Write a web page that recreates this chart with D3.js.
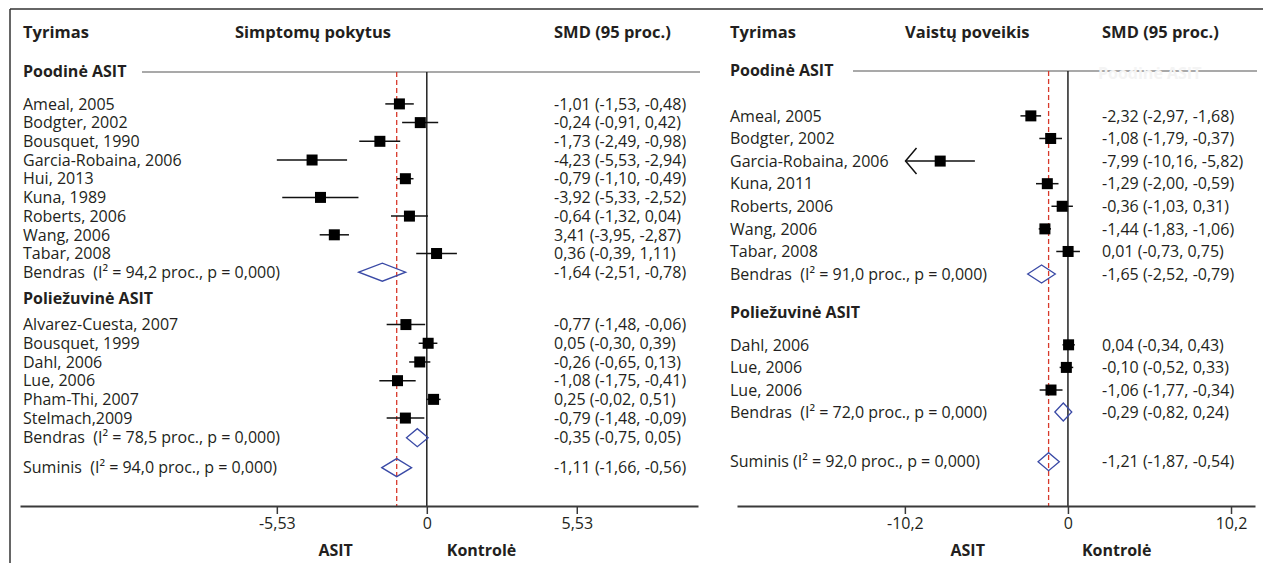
<!DOCTYPE html>
<html>
<head>
  <meta charset="utf-8">
  <title>Forest plot ASIT</title>
  <script src="https://d3js.org/d3.v7.min.js"></script>
  <style>
    html, body { margin: 0; padding: 0; background: #fff; }
    svg { display: block; }
    text { font-family: "Open Sans", "Noto Sans", sans-serif; fill: #231f20; font-size: 16px; white-space: pre; }
    .bold { font-weight: 700; }
    .hdr { font-size: 16.5px; }
    .frame { stroke: #333; stroke-width: 1.5; }
    .groupline { stroke: #8c8c8c; stroke-width: 1.5; }
    .zero { stroke: #222; stroke-width: 1.5; }
    .pooledline { stroke: #d8392b; stroke-width: 1.3; stroke-dasharray: 5,3; }
    .ci { stroke: #111; stroke-width: 1.5; }
    .box { fill: #000; }
    .diamond { fill: none; stroke: #3a4aa6; stroke-width: 1.3; }
    .axis path, .axis line { stroke: #3a3a3a; }
    .axis path { stroke-width: 2; }
    .axis line { stroke-width: 1.5; }
  </style>
</head>
<body>
  <svg width="1263" height="563"></svg>
  <script>
    // ---- left panel: Simptomų pokytus ----
    const sympSubNames = ["Ameal, 2005", "Bodgter, 2002", "Bousquet, 1990", "Garcia-Robaina, 2006", "Hui, 2013",
                          "Kuna, 1989", "Roberts, 2006", "Wang, 2006", "Tabar, 2008"];
    const sympSubEst = [-1.01, -0.24, -1.73, -4.23, -0.79, -3.92, -0.64, -3.41, 0.36];
    const sympSubLo  = [-1.53, -0.91, -2.49, -5.53, -1.10, -5.33, -1.32, -3.95, -0.39];
    const sympSubHi  = [-0.48,  0.42, -0.98, -2.94, -0.49, -2.52,  0.04, -2.87,  1.11];
    const sympSubText = ["-1,01 (-1,53, -0,48)", "-0,24 (-0,91, 0,42)", "-1,73 (-2,49, -0,98)", "-4,23 (-5,53, -2,94)",
                         "-0,79 (-1,10, -0,49)", "-3,92 (-5,33, -2,52)", "-0,64 (-1,32, 0,04)", "3,41 (-3,95, -2,87)",
                         "0,36 (-0,39, 1,11)"];
    const sympSubPooled = [-1.64, -2.51, -0.78];
    const sympSubPooledLabel = "Bendras  (I² = 94,2 proc., p = 0,000)";
    const sympSubPooledText = "-1,64 (-2,51, -0,78)";

    const sympSlNames = ["Alvarez-Cuesta, 2007", "Bousquet, 1999", "Dahl, 2006", "Lue, 2006", "Pham-Thi, 2007", "Stelmach,2009"];
    const sympSlEst = [-0.77,  0.05, -0.26, -1.08,  0.25, -0.79];
    const sympSlLo  = [-1.48, -0.30, -0.65, -1.75, -0.02, -1.48];
    const sympSlHi  = [-0.06,  0.39,  0.13, -0.41,  0.51, -0.09];
    const sympSlText = ["-0,77 (-1,48, -0,06)", "0,05 (-0,30, 0,39)", "-0,26 (-0,65, 0,13)", "-1,08 (-1,75, -0,41)",
                        "0,25 (-0,02, 0,51)", "-0,79 (-1,48, -0,09)"];
    const sympSlPooled = [-0.35, -0.75, 0.05];
    const sympSlPooledLabel = "Bendras  (I² = 78,5 proc., p = 0,000)";
    const sympSlPooledText = "-0,35 (-0,75, 0,05)";

    const sympTotal = [-1.11, -1.66, -0.56];
    const sympTotalLabel = "Suminis  (I² = 94,0 proc., p = 0,000)";
    const sympTotalText = "-1,11 (-1,66, -0,56)";
    const sympTicks = [-5.53, 0, 5.53];
    const sympTickLabels = ["-5,53", "0", "5,53"];

    // ---- right panel: Vaistų poveikis ----
    const medSubNames = ["Ameal, 2005", "Bodgter, 2002", "Garcia-Robaina, 2006", "Kuna, 2011", "Roberts, 2006",
                         "Wang, 2006", "Tabar, 2008"];
    const medSubEst = [-2.32, -1.08,  -7.99, -1.29, -0.36, -1.44,  0.01];
    const medSubLo  = [-2.97, -1.79, -10.16, -2.00, -1.03, -1.83, -0.73];
    const medSubHi  = [-1.68, -0.37,  -5.82, -0.59,  0.31, -1.06,  0.75];
    const medSubText = ["-2,32 (-2,97, -1,68)", "-1,08 (-1,79, -0,37)", "-7,99 (-10,16, -5,82)", "-1,29 (-2,00, -0,59)",
                        "-0,36 (-1,03, 0,31)", "-1,44 (-1,83, -1,06)", "0,01 (-0,73, 0,75)"];
    const medSubPooled = [-1.65, -2.52, -0.79];
    const medSubPooledLabel = "Bendras  (I² = 91,0 proc., p = 0,000)";
    const medSubPooledText = "-1,65 (-2,52, -0,79)";

    const medSlNames = ["Dahl, 2006", "Lue, 2006", "Lue, 2006"];
    const medSlEst = [ 0.04, -0.10, -1.06];
    const medSlLo  = [-0.34, -0.52, -1.77];
    const medSlHi  = [ 0.43,  0.33, -0.34];
    const medSlText = ["0,04 (-0,34, 0,43)", "-0,10 (-0,52, 0,33)", "-1,06 (-1,77, -0,34)"];
    const medSlPooled = [-0.29, -0.82, 0.24];
    const medSlPooledLabel = "Bendras  (I² = 72,0 proc., p = 0,000)";
    const medSlPooledText = "-0,29 (-0,82, 0,24)";

    const medTotal = [-1.21, -1.87, -0.54];
    const medTotalLabel = "Suminis (I² = 92,0 proc., p = 0,000)";
    const medTotalText = "-1,21 (-1,87, -0,54)";
    const medTicks = [-10.2, 0, 10.2];
    const medTickLabels = ["-10,2", "0", "10,2"];

    const svg = d3.select("svg");

    // outer frame (top + left edge only)
    svg.append("line").attr("class", "frame").attr("x1", 10).attr("x2", 1263).attr("y1", 9).attr("y2", 9);
    svg.append("line").attr("class", "frame").attr("x1", 10).attr("x2", 10).attr("y1", 9).attr("y2", 563);

    function studies(names, est, lo, hi, text) {
      return names.map((n, i) => ({ type: "study", label: n, est: est[i], lo: lo[i], hi: hi[i], text: text[i] }));
    }
    function pooled(type, vals, label, text) {
      return { type: type, label: label, est: vals[0], lo: vals[1], hi: vals[2], text: text };
    }

    function drawPanel(p) {
      const g = svg.append("g");
      const x = d3.scaleLinear().domain(p.domain).range(p.range);
      const y = d3.scaleLinear().domain([0, 1]).range([p.top, p.top + p.step]);
      const axisY = 506;

      // headers
      g.append("text").attr("class", "bold hdr").attr("x", p.labelX).attr("y", 38).text("Tyrimas");
      g.append("text").attr("class", "bold hdr").attr("x", p.titleX).attr("y", 38).text(p.title);
      g.append("text").attr("class", "bold hdr").attr("x", p.textX).attr("y", 38).text("SMD (95 proc.)");

      // group line under first heading
      g.append("line").attr("class", "groupline")
        .attr("x1", p.lineX).attr("x2", p.range[1] + 2).attr("y1", y(0) + 1).attr("y2", y(0) + 1);
      if (p.ghost) {
        g.append("text").attr("class", "bold").attr("x", p.ghost).attr("y", y(0) + 9)
          .style("fill", "#f4f4f4").text("Poodinė ASIT");
      }

      // zero line and pooled estimate line
      g.append("line").attr("class", "zero")
        .attr("x1", x(0)).attr("x2", x(0)).attr("y1", y(0) + 1).attr("y2", axisY);
      g.append("line").attr("class", "pooledline")
        .attr("x1", x(p.total.est)).attr("x2", x(p.total.est)).attr("y1", y(0) + 1).attr("y2", axisY);

      // rows
      p.rows.forEach(r => {
        const yy = y(r.slot);
        g.append("text").attr("class", r.type === "head" ? "bold" : null)
          .attr("x", p.labelX).attr("y", yy).attr("dy", "0.36em").text(r.label);
        if (r.type === "head") return;
        g.append("text").attr("x", p.textX).attr("y", yy).attr("dy", "0.36em").text(r.text);
        if (r.type === "study") {
          const clipped = r.lo < p.arrowBelow;
          g.append("line").attr("class", "ci")
            .attr("x1", x(r.lo)).attr("x2", x(r.hi)).attr("y1", yy).attr("y2", yy);
          if (clipped) {
            g.append("path").attr("class", "ci").attr("fill", "none")
              .attr("d", `M${x(r.lo) + 11},${yy - 13}L${x(r.lo)},${yy}L${x(r.lo) + 11},${yy + 13}`);
          }
          g.append("rect").attr("class", "box")
            .attr("x", x(r.est) - 5.5).attr("y", yy - 5.5).attr("width", 11).attr("height", 11);
        } else {
          const h = 9;
          g.append("path").attr("class", "diamond")
            .attr("d", `M${x(r.lo)},${yy}L${x(r.est)},${yy - h}L${x(r.hi)},${yy}L${x(r.est)},${yy + h}Z`);
        }
      });

      // axis
      const axis = d3.axisBottom(x)
        .tickValues(p.ticks)
        .tickFormat((d, i) => p.tickLabels[i])
        .tickSize(8).tickSizeOuter(0).tickPadding(4);
      const ax = g.append("g").attr("class", "axis").attr("transform", `translate(0,${axisY})`).call(axis);
      ax.selectAll("text").style("font-size", "16px").style("font-family", null).attr("fill", "#231f20");

      g.append("text").attr("class", "bold").attr("x", x(0) + p.asitOff).attr("y", 556)
        .attr("text-anchor", "end").text("ASIT");
      g.append("text").attr("class", "bold").attr("x", x(0) + p.kontOff).attr("y", 556).text("Kontrolė");
    }

    // rows with vertical slots
    function buildRows(subStudies, subPooled, slStudies, slPooled, total, gaps) {
      const rows = [];
      let s = 0;
      rows.push({ type: "head", label: "Poodinė ASIT", slot: s });
      s += gaps.afterHead;
      subStudies.forEach(r => { r.slot = s; rows.push(r); s += 1; });
      subPooled.slot = s - 1 + gaps.pooled; rows.push(subPooled); s = subPooled.slot;
      s += gaps.beforeHead;
      rows.push({ type: "head", label: "Poliežuvinė ASIT", slot: s });
      s += gaps.afterHead2;
      slStudies.forEach(r => { r.slot = s; rows.push(r); s += 1; });
      slPooled.slot = s - 1 + gaps.pooled2; rows.push(slPooled); s = slPooled.slot;
      total.slot = s + gaps.total; rows.push(total);
      return rows;
    }

    const leftTotal = pooled("total", sympTotal, sympTotalLabel, sympTotalText);
    drawPanel({
      title: "Simptomų pokytus", labelX: 23, titleX: 235, textX: 554, lineX: 142,
      domain: [-15, 10], range: [20, 698], top: 71, step: 18.7,
      ticks: sympTicks, tickLabels: sympTickLabels, arrowBelow: -100,
      asitOff: -74, kontOff: 20, total: leftTotal,
      rows: buildRows(
        studies(sympSubNames, sympSubEst, sympSubLo, sympSubHi, sympSubText),
        pooled("pooled", sympSubPooled, sympSubPooledLabel, sympSubPooledText),
        studies(sympSlNames, sympSlEst, sympSlLo, sympSlHi, sympSlText),
        pooled("pooled", sympSlPooled, sympSlPooledLabel, sympSlPooledText),
        leftTotal,
        { afterHead: 1.76, pooled: 1, beforeHead: 1.4, afterHead2: 1.4, pooled2: 1.05, total: 1.6 })
    });

    const rightTotal = pooled("total", medTotal, medTotalLabel, medTotalText);
    drawPanel({
      title: "Vaistų poveikis", labelX: 730, titleX: 905, textX: 1102, lineX: 853, ghost: 1098,
      domain: [-20.7, 11.7], range: [737, 1255], top: 70, step: 22.6,
      ticks: medTicks, tickLabels: medTickLabels, arrowBelow: -10,
      asitOff: -83, kontOff: 14, total: rightTotal,
      rows: buildRows(
        studies(medSubNames, medSubEst, medSubLo, medSubHi, medSubText),
        pooled("pooled", medSubPooled, medSubPooledLabel, medSubPooledText),
        studies(medSlNames, medSlEst, medSlLo, medSlHi, medSlText),
        pooled("pooled", medSlPooled, medSlPooledLabel, medSlPooledText),
        rightTotal,
        { afterHead: 2.03, pooled: 1, beforeHead: 1.68, afterHead2: 1.45, pooled2: 0.97, total: 2.2 })
    });
  </script>
</body>
</html>
